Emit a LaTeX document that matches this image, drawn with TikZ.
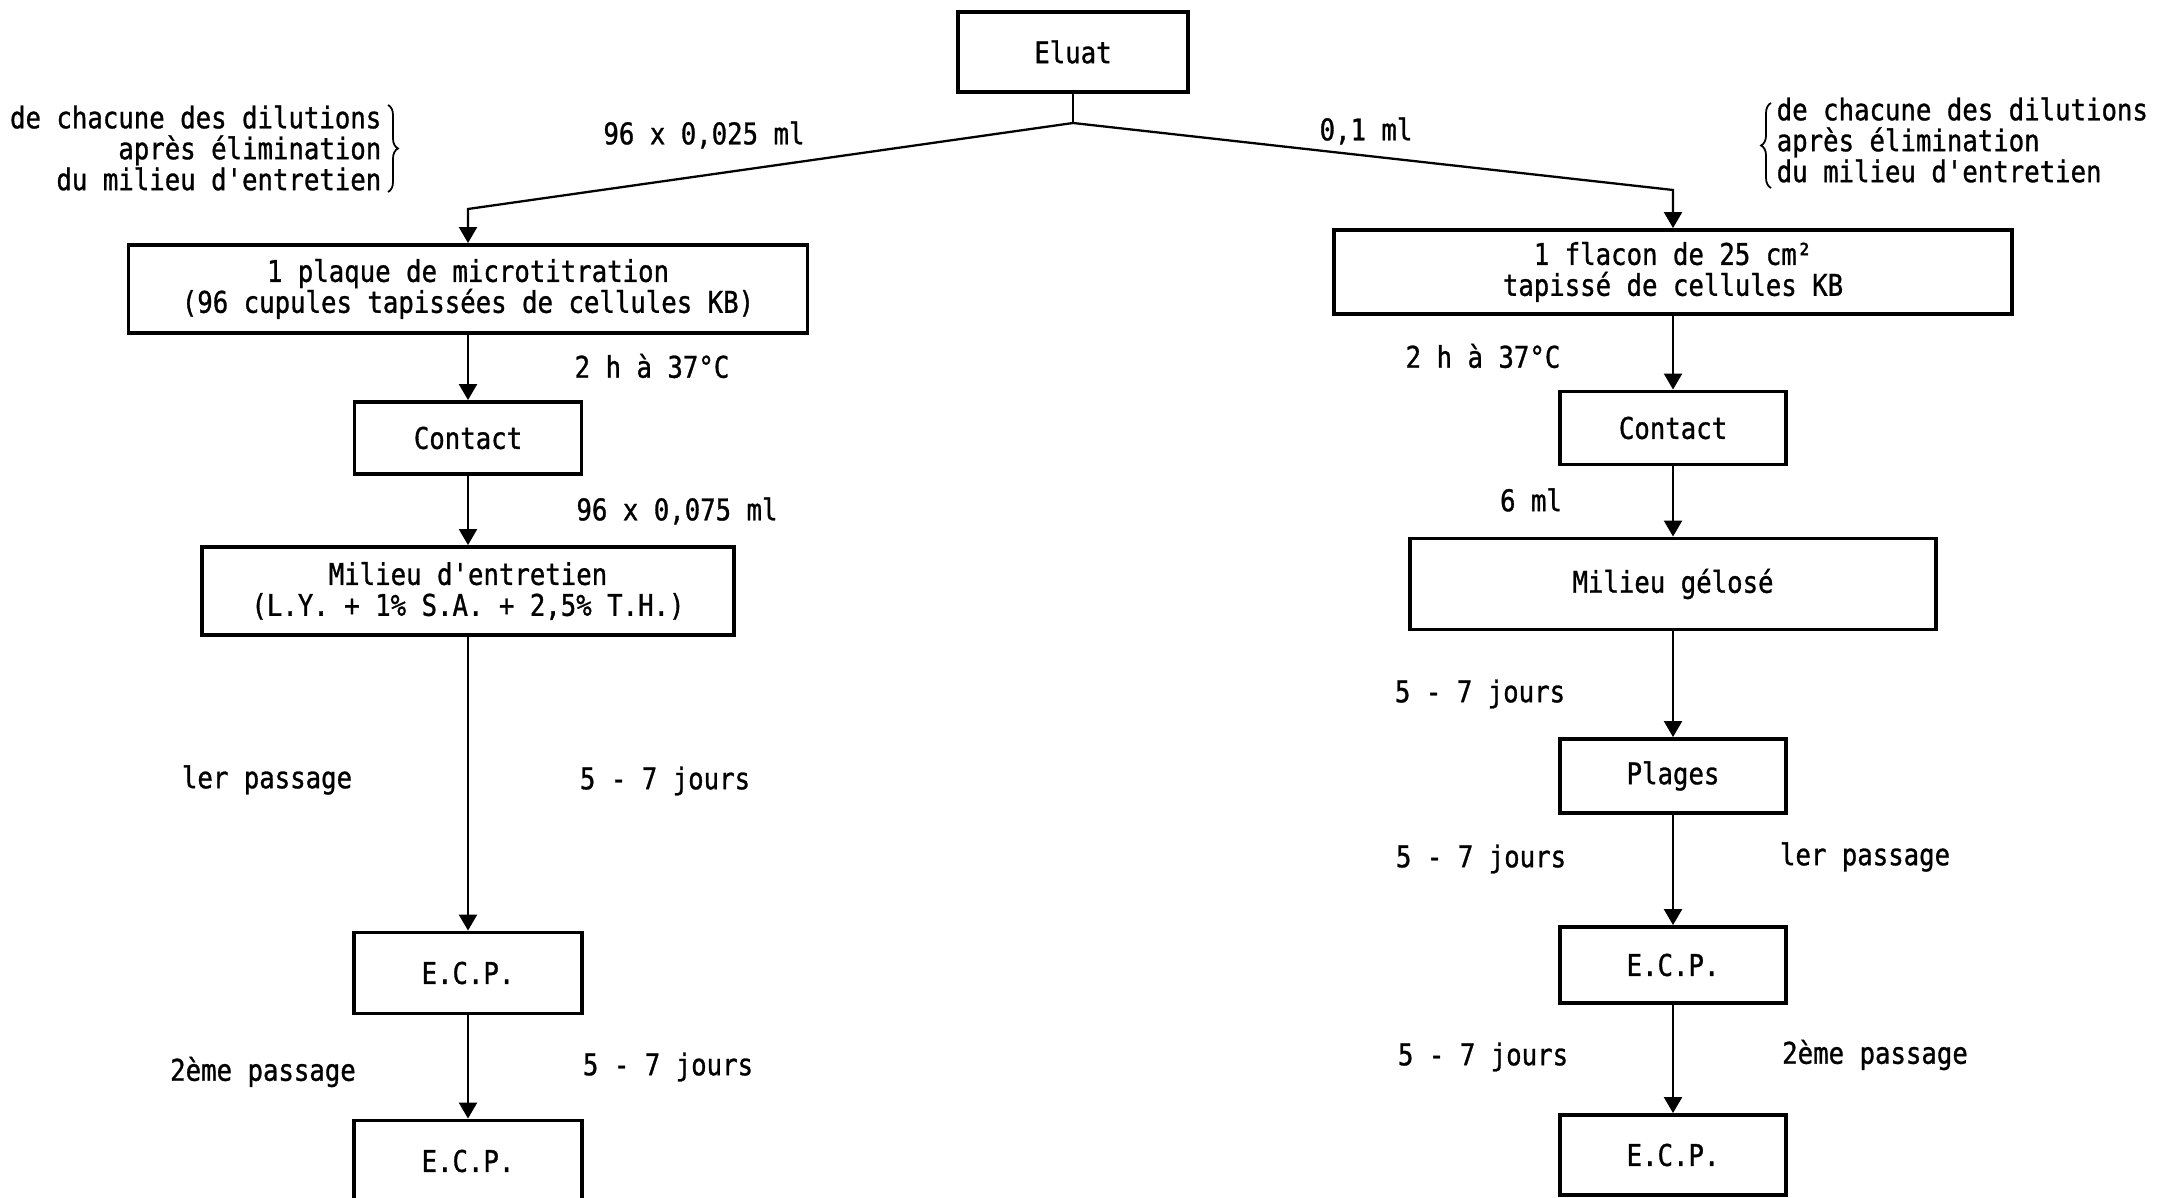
\documentclass[tikz,border=0pt]{standalone}
\usepackage{fontspec}
\newfontfamily\machine[FakeStretch=0.86, FakeBold=1]{DejaVu Sans Mono}
\usetikzlibrary{arrows.meta,decorations.pathreplacing}

\begin{document}
\begin{tikzpicture}[x=0.1mm, y=-0.1mm,
  every node/.style={font=\machine\fontsize{8.5}{8.8}\selectfont},
  boite/.style={draw, line width=1.1pt, inner sep=0pt, align=center},
  fleche/.style={line width=0.65pt, -{Triangle[length=1.6mm,width=1.8mm]}},
  accolade/.style={line width=0.5pt, decorate, decoration={brace, amplitude=1mm}}]
  \clip (0,0) rectangle (2161,1198);

  % boites
  \node[boite, minimum width=23mm,   minimum height=8mm]   (eluat)    at (1073,52)  {Eluat};
  \node[boite, minimum width=67.9mm, minimum height=8.8mm] (plaque)   at (468,289)  {1 plaque de microtitration\\(96 cupules tapissées de cellules KB)};
  \node[boite, minimum width=22.7mm, minimum height=7.2mm] (contactL) at (468,438)  {Contact};
  \node[boite, minimum width=53.2mm, minimum height=8.8mm] (milieuL)  at (468,591)  {Milieu d'entretien\\(L.Y. + 1\% S.A. + 2,5\% T.H.)};
  \node[boite, minimum width=22.8mm, minimum height=8.1mm] (ecpL1)    at (468,973)  {E.C.P.};
  \node[boite, minimum width=22.8mm, minimum height=8.1mm] (ecpL2)    at (468,1161) {E.C.P.};
  \node[boite, minimum width=67.8mm, minimum height=8.4mm] (flacon)   at (1673,272) {1 flacon de 25 cm²\\tapissé de cellules KB};
  \node[boite, minimum width=22.6mm, minimum height=7.3mm] (contactR) at (1673,428) {Contact};
  \node[boite, minimum width=52.6mm, minimum height=9.1mm] (gelose)   at (1673,584) {Milieu gélosé};
  \node[boite, minimum width=22.6mm, minimum height=7.4mm] (plages)   at (1673,776) {Plages};
  \node[boite, minimum width=22.6mm, minimum height=7.6mm] (ecpR1)    at (1673,965) {E.C.P.};
  \node[boite, minimum width=22.6mm, minimum height=8mm]   (ecpR2)    at (1673,1155){E.C.P.};

  % embranchement
  \coordinate (split) at (1073,123);
  \coordinate (kneeL) at (468,209);
  \coordinate (kneeR) at (1673,190);
  \draw[line width=0.65pt] (eluat.south) -- (split);
  \draw[fleche] (split) -- (kneeL) -- (plaque.north);
  \draw[fleche] (split) -- (kneeR) -- (flacon.north);

  \foreach \a/\b in {plaque/contactL, contactL/milieuL, milieuL/ecpL1, ecpL1/ecpL2,
                     flacon/contactR, contactR/gelose, gelose/plages, plages/ecpR1, ecpR1/ecpR2}
    \draw[fleche] (\a.south) -- (\b.north);

  % textes
  \node (vol1) at (704,135)  {96 x 0,025 ml};
  \node (vol2) at (1366,131) {0,1 ml};
  \node[anchor=east, align=right, inner sep=0pt] (noteL) at (382,148) {de chacune des dilutions\\après élimination\\du milieu d'entretien};
  \node[anchor=west, align=left, inner sep=0pt]  (noteR) at (1776,140) {de chacune des dilutions\\après élimination\\du milieu d'entretien};
  \draw[accolade] (388,105) -- (388,192);
  \draw[accolade] (1771,188) -- (1771,103);

  \node (tL1) at (652,366)  {2 h à 37°C};
  \node (tL2) at (677,511)  {96 x 0,075 ml};
  \node (tL3) at (267,780)  {ler passage};
  \node (tL4) at (665,781)  {5 - 7 jours};
  \node (tL5) at (263,1072) {2ème passage};
  \node (tL6) at (668,1067) {5 - 7 jours};
  \node (tR1) at (1483,356) {2 h à 37°C};
  \node (tR2) at (1531,500) {6 ml};
  \node (tR3) at (1480,694) {5 - 7 jours};
  \node (tR4) at (1481,859) {5 - 7 jours};
  \node (tR5) at (1865,857) {ler passage};
  \node (tR6) at (1483,1057){5 - 7 jours};
  \node (tR7) at (1875,1055){2ème passage};
\end{tikzpicture}
\end{document}
